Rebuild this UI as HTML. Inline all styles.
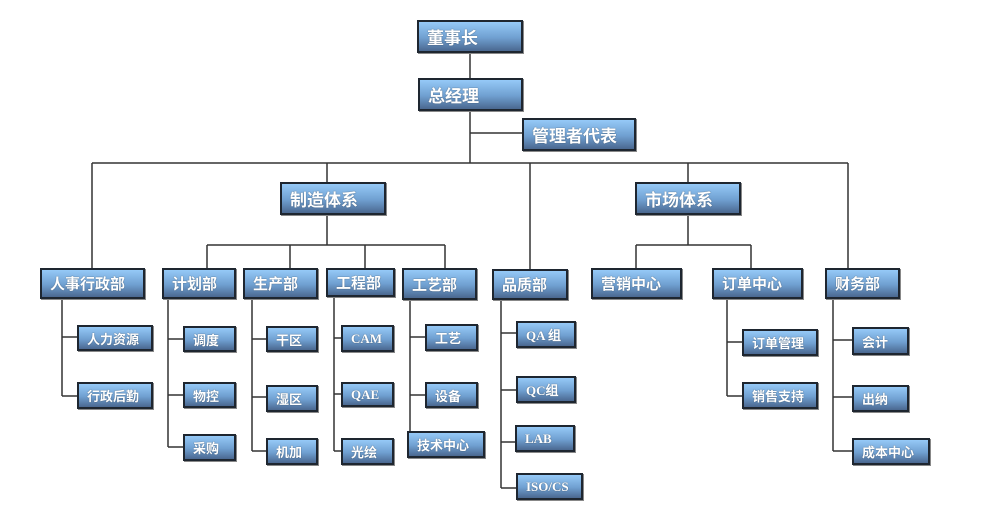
<!DOCTYPE html>
<html><head><meta charset="utf-8"><style>
body{margin:0;background:#fff;width:981px;height:527px;position:relative;overflow:hidden;font-family:"Liberation Sans","Noto Sans CJK SC",sans-serif}
.b{position:absolute;box-sizing:border-box;border:2px solid #1e2630;background:linear-gradient(#95c9f7,#6f9fd0 55%,#4a6890);color:#fff;font-weight:bold;white-space:nowrap;display:flex;align-items:center;padding-left:8px;text-shadow:0 0 1px #345;box-shadow:1px 1px 0 #888}
.l{font-size:17px}.m{font-size:15px}.s{font-size:13px}
.e{font-family:"Liberation Serif",serif}
svg{position:absolute;left:0;top:0}
</style></head><body>
<svg width="981" height="527"><g stroke="#333" stroke-width="1.5" fill="none">
<path d="M470 53V78M470 111V163M470 133H522M92 163H848M92 163V268M327 163V182M530 163V269M688 163V182M848 163V268"/>
<path d="M327 215V245M207 245H445M207 245V268M290 245V268M365 245V268M445 245V268"/>
<path d="M688 215V245M636 245H751M636 245V268M751 245V268"/>
<path d="M62 299V396M62 337H77M62 396H77"/>
<path d="M168 299V447M168 339H183M168 395H183M168 447H183"/>
<path d="M252 299V451M252 339H266M252 397H266M252 451H266"/>
<path d="M334 297V451M334 338H341M334 394H341M334 451H341"/>
<path d="M410 300V431M410 337H425M410 395H425"/>
<path d="M501 300V488M501 333H516M501 390H516M501 442H515M501 488H516"/>
<path d="M727 299V396M727 342H742M727 396H742"/>
<path d="M833 299V451M833 340H852M833 397H852M833 451H852"/>
</g></svg>
<div class="b l" style="left:417px;top:20px;width:106px;height:33px">董事长</div>
<div class="b l" style="left:418px;top:78px;width:105px;height:33px">总经理</div>
<div class="b l" style="left:522px;top:118px;width:114px;height:33px">管理者代表</div>
<div class="b l" style="left:280px;top:182px;width:106px;height:33px">制造体系</div>
<div class="b l" style="left:635px;top:182px;width:106px;height:33px">市场体系</div>
<div class="b m" style="left:40px;top:268px;width:105px;height:31px">人事行政部</div>
<div class="b m" style="left:162px;top:268px;width:74px;height:31px">计划部</div>
<div class="b m" style="left:243px;top:268px;width:75px;height:31px">生产部</div>
<div class="b m" style="left:326px;top:268px;width:69px;height:29px">工程部</div>
<div class="b m" style="left:402px;top:268px;width:75px;height:32px">工艺部</div>
<div class="b m" style="left:492px;top:269px;width:76px;height:31px">品质部</div>
<div class="b m" style="left:591px;top:268px;width:91px;height:31px">营销中心</div>
<div class="b m" style="left:712px;top:268px;width:91px;height:31px">订单中心</div>
<div class="b m" style="left:825px;top:268px;width:75px;height:31px">财务部</div>
<div class="b s" style="left:77px;top:325px;width:76px;height:26px">人力资源</div>
<div class="b s" style="left:77px;top:382px;width:76px;height:27px">行政后勤</div>
<div class="b s" style="left:183px;top:326px;width:53px;height:26px">调度</div>
<div class="b s" style="left:183px;top:382px;width:53px;height:26px">物控</div>
<div class="b s" style="left:183px;top:434px;width:53px;height:27px">采购</div>
<div class="b s" style="left:266px;top:326px;width:52px;height:26px">干区</div>
<div class="b s" style="left:266px;top:385px;width:52px;height:27px">湿区</div>
<div class="b s" style="left:266px;top:438px;width:52px;height:27px">机加</div>
<div class="b s e" style="left:341px;top:325px;width:53px;height:27px">CAM</div>
<div class="b s e" style="left:341px;top:382px;width:53px;height:25px">QAE</div>
<div class="b s" style="left:341px;top:438px;width:53px;height:27px">光绘</div>
<div class="b s" style="left:425px;top:324px;width:53px;height:27px">工艺</div>
<div class="b s" style="left:425px;top:382px;width:53px;height:26px">设备</div>
<div class="b s" style="left:407px;top:431px;width:78px;height:27px">技术中心</div>
<div class="b s e" style="left:516px;top:321px;width:60px;height:27px">QA 组</div>
<div class="b s e" style="left:516px;top:376px;width:60px;height:27px">QC组</div>
<div class="b s e" style="left:515px;top:425px;width:60px;height:27px">LAB</div>
<div class="b s e" style="left:516px;top:473px;width:67px;height:27px">ISO/CS</div>
<div class="b s" style="left:742px;top:329px;width:76px;height:27px">订单管理</div>
<div class="b s" style="left:742px;top:382px;width:76px;height:27px">销售支持</div>
<div class="b s" style="left:852px;top:327px;width:57px;height:28px">会计</div>
<div class="b s" style="left:852px;top:385px;width:57px;height:27px">出纳</div>
<div class="b s" style="left:852px;top:438px;width:78px;height:27px">成本中心</div>
</body></html>
